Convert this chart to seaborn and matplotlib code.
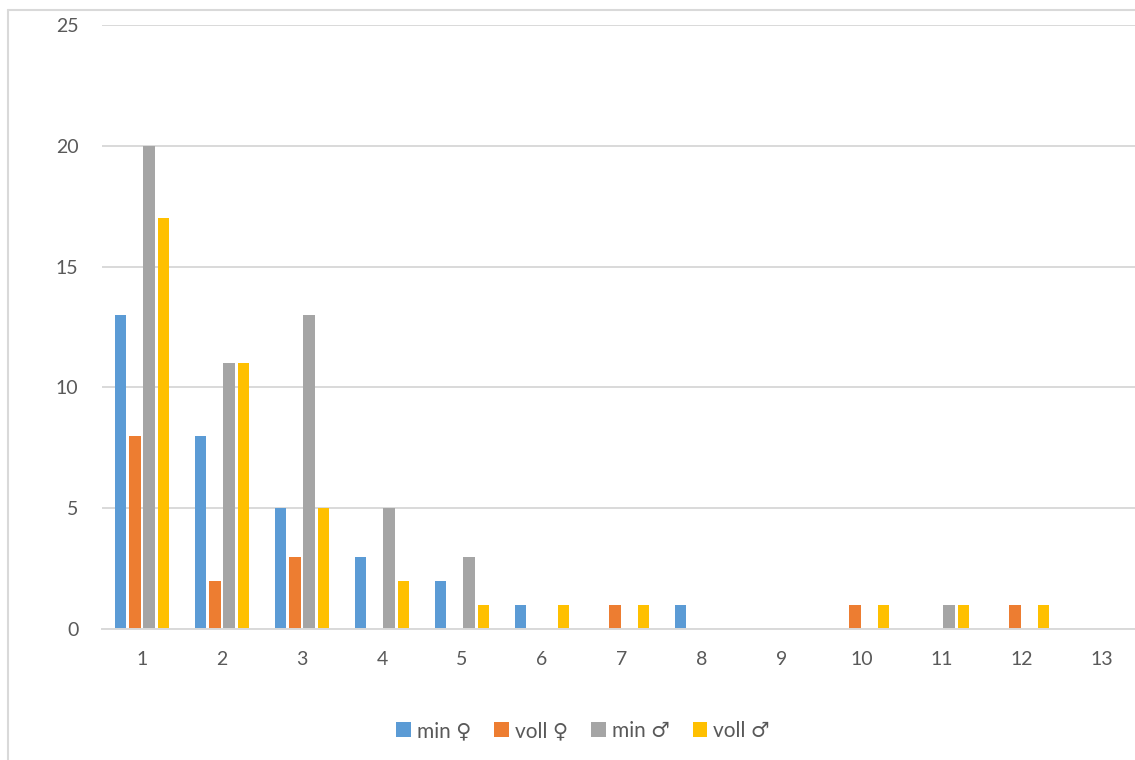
import matplotlib
matplotlib.use("Agg")
import matplotlib.pyplot as plt
import seaborn as sns
import pandas as pd
from matplotlib.lines import Line2D
from matplotlib.patches import Patch

# Data: counts per category for each group
categories = [str(i) for i in range(1, 14)]
series_names = ["min ♀", "voll ♀", "min ♂", "voll ♂"]
min_f = [13, 8, 5, 3, 2, 1, 0, 1, 0, 0, 0, 0, 0]
voll_f = [8, 2, 3, 0, 0, 0, 1, 0, 0, 1, 0, 1, 0]
min_m = [20, 11, 13, 5, 3, 0, 0, 0, 0, 0, 1, 0, 0]
voll_m = [17, 11, 5, 2, 1, 1, 1, 0, 0, 1, 1, 1, 0]
y_ticks = [0, 5, 10, 15, 20, 25]

colors = ["#5B9BD5", "#ED7D31", "#A5A5A5", "#FFC000"]
text_color = "#595959"
grid_color = "#D9D9D9"

rows = []
for name, vals in zip(series_names, [min_f, voll_f, min_m, voll_m]):
    for cat, v in zip(categories, vals):
        rows.append({"category": cat, "series": name, "value": v})
df = pd.DataFrame(rows)

sns.set_theme(style="white")
plt.rcParams["font.family"] = ["Lato", "DejaVu Sans"]

fig = plt.figure(figsize=(11.35, 7.6), dpi=100)
W, H = 1135, 760
left, right, top, bottom = 102, 1142, 25, 629
ax = fig.add_axes([left / W, 1 - bottom / H, (right - left) / W, (bottom - top) / H])

sns.barplot(data=df, x="category", y="value", hue="series", order=categories,
            hue_order=series_names, palette=colors, width=0.72, gap=0.2,
            saturation=1, errorbar=None, legend=False, linewidth=0, ax=ax)

ax.set_xlim(-0.5, len(categories) - 0.5)
ax.set_ylim(0, 25)
ax.set_yticks(y_ticks)
ax.yaxis.grid(True, color=grid_color, linewidth=1.4)
ax.set_axisbelow(True)
for side in ["left", "right", "top"]:
    ax.spines[side].set_visible(False)
ax.spines["bottom"].set_color(grid_color)
ax.spines["bottom"].set_linewidth(1.4)
ax.tick_params(axis="both", length=0, labelsize=14, labelcolor=text_color)
ax.tick_params(axis="x", pad=16)
ax.tick_params(axis="y", pad=17)
ax.set_xlabel("")
ax.set_ylabel("")

# Chart frame
fig.add_artist(Line2D([8 / W, 8 / W], [0, 1 - 10 / H], transform=fig.transFigure,
                      color=grid_color, linewidth=1.5))
fig.add_artist(Line2D([8 / W, 1], [1 - 10 / H, 1 - 10 / H], transform=fig.transFigure,
                      color=grid_color, linewidth=1.5))

handles = [Patch(facecolor=c, edgecolor="none") for c in colors]
fig.legend(handles, series_names, loc="center", bbox_to_anchor=(583 / W, 1 - 731 / H),
           ncol=4, frameon=False, fontsize=15, labelcolor=text_color,
           handlelength=0.7, handleheight=0.7, handletextpad=0.3, columnspacing=1.1)

fig.savefig("out.png", dpi=100)
